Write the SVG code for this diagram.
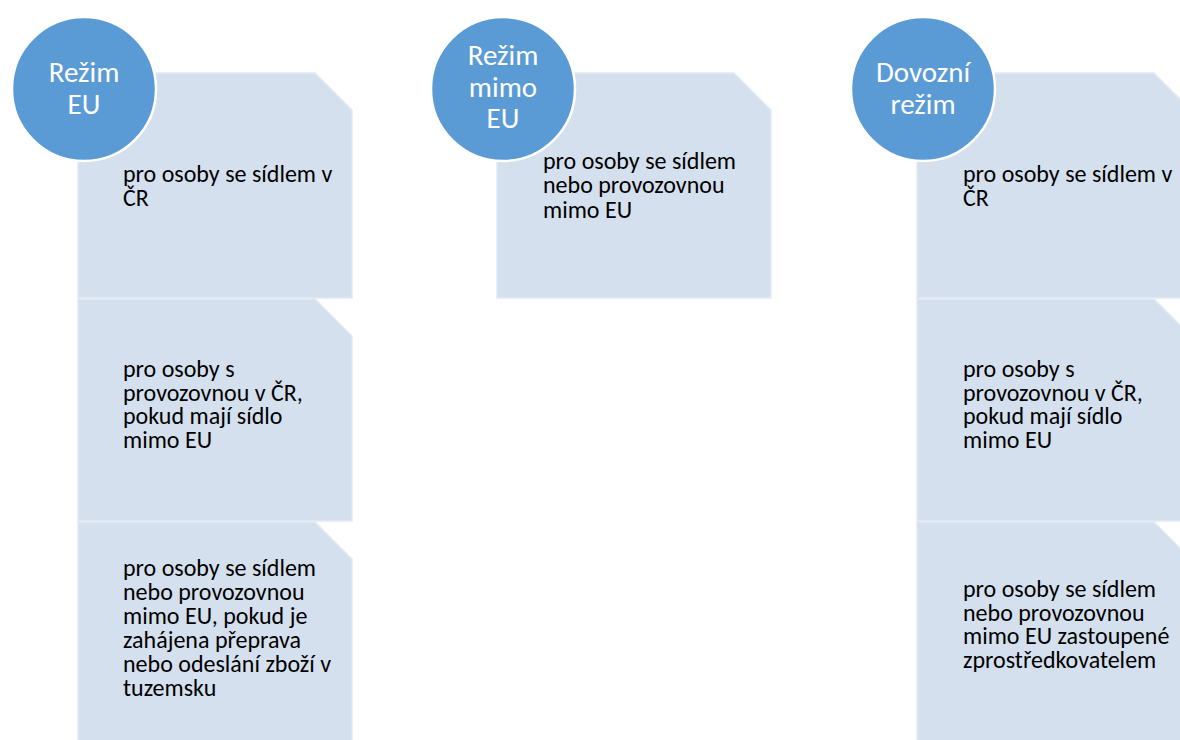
<svg xmlns="http://www.w3.org/2000/svg" width="1180" height="740" viewBox="0 0 1180 740">
<style>
.box{fill:#D5E0EE;stroke:#E2EAF4;stroke-width:1.5}
.circ{fill:#5B9BD5;stroke:#FFFFFF;stroke-width:2.5}
.ct{font-family:Carlito,Lato,"Liberation Sans",sans-serif;font-size:29px;fill:#FFFFFF;text-anchor:middle}
.bt{font-family:Carlito,Lato,"Liberation Sans",sans-serif;font-size:24px;fill:#000000}
</style>
<rect width="1180" height="740" fill="#FFFFFF"/>
<g id="col1-box1"><path class="box" d="M78,73 H315 L352,110 V298 H78 Z"/>
<text class="bt" x="123" y="182">pro osoby se sídlem v</text><text class="bt" x="123" y="205.5">ČR</text></g>
<g id="col1-box2"><path class="box" d="M78,299 H315 L352,336 V521 H78 Z"/>
<text class="bt" x="123" y="377">pro osoby s</text><text class="bt" x="123" y="400.5">provozovnou v ČR,</text><text class="bt" x="123" y="424">pokud mají sídlo</text><text class="bt" x="123" y="447.5">mimo EU</text></g>
<g id="col1-box3"><path class="box" d="M78,522 H315 L352,559 V745 H78 Z"/>
<text class="bt" x="123" y="576">pro osoby se sídlem</text><text class="bt" x="123" y="600">nebo provozovnou</text><text class="bt" x="123" y="624">mimo EU, pokud je</text><text class="bt" x="123" y="648">zahájena přeprava</text><text class="bt" x="123" y="672">nebo odeslání zboží v</text><text class="bt" x="123" y="696">tuzemsku</text></g>
<g id="col1-head"><circle class="circ" cx="84" cy="89" r="72"/>
<text class="ct" x="84" y="82">Režim</text><text class="ct" x="84" y="113.5">EU</text></g>

<g id="col2-box1"><path class="box" d="M497,73 H734 L771,110 V298 H497 Z"/>
<text class="bt" x="543" y="168.5">pro osoby se sídlem</text><text class="bt" x="543" y="193">nebo provozovnou</text><text class="bt" x="543" y="217.5">mimo EU</text></g>
<g id="col2-head"><circle class="circ" cx="503" cy="89" r="72"/>
<text class="ct" x="503" y="65">Režim</text><text class="ct" x="503" y="96.5">mimo</text><text class="ct" x="503" y="128">EU</text></g>

<g id="col3-box1"><path class="box" d="M917,73 H1154 L1191,110 V298 H917 Z"/>
<text class="bt" x="963" y="182">pro osoby se sídlem v</text><text class="bt" x="963" y="205.5">ČR</text></g>
<g id="col3-box2"><path class="box" d="M917,299 H1154 L1191,336 V521 H917 Z"/>
<text class="bt" x="963" y="377">pro osoby s</text><text class="bt" x="963" y="400.5">provozovnou v ČR,</text><text class="bt" x="963" y="424">pokud mají sídlo</text><text class="bt" x="963" y="447.5">mimo EU</text></g>
<g id="col3-box3"><path class="box" d="M917,522 H1154 L1191,559 V745 H917 Z"/>
<text class="bt" x="963" y="597">pro osoby se sídlem</text><text class="bt" x="963" y="620.5">nebo provozovnou</text><text class="bt" x="963" y="644">mimo EU zastoupené</text><text class="bt" x="963" y="667.5">zprostředkovatelem</text></g>
<g id="col3-head"><circle class="circ" cx="923" cy="89" r="72"/>
<text class="ct" x="923" y="82">Dovozní</text><text class="ct" x="923" y="113.5">režim</text></g>
<g id="connectors"/>
</svg>
